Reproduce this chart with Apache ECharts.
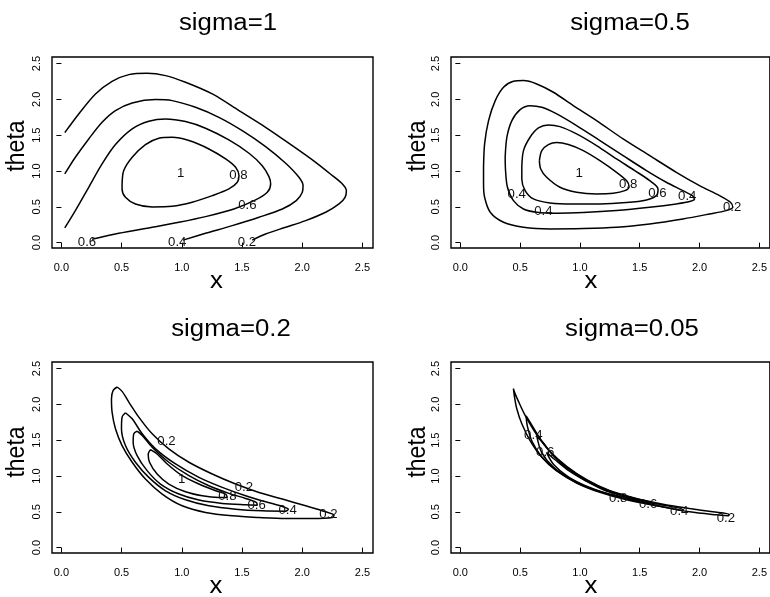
<!DOCTYPE html>
<html>
<head>
<meta charset="utf-8">
<script src="https://cdn.jsdelivr.net/npm/echarts@6/dist/echarts.min.js"></script>
<style>
html,body{margin:0;padding:0;background:#fff;}
#chart{width:770px;height:597px;}
</style>
</head>
<body>
<div id="chart"></div>
<script>
// ---------- data ----------
const panelTitles = ['sigma=1', 'sigma=0.5', 'sigma=0.2', 'sigma=0.05'];
const xAxisName = 'x';
const yAxisName = 'theta';
const tickValues = [0, 0.5, 1, 1.5, 2, 2.5];
const tickLabels = ['0.0', '0.5', '1.0', '1.5', '2.0', '2.5'];

// sigma = 1 (open contours end at the boundaries)
const s1_c02 = [[0.028,1.536],[0.144,1.797],[0.283,2.076],[0.421,2.253],[0.560,2.346],[0.712,2.365],[0.865,2.332],[1.031,2.239],[1.253,2.076],[1.475,1.844],[1.696,1.611],[1.918,1.355],[2.112,1.122],[2.251,0.936],[2.334,0.819],[2.367,0.726],[2.356,0.633],[2.306,0.540],[2.195,0.424],[2.029,0.307],[1.863,0.214],[1.696,0.121],[1.585,0.035]];
const s1_c04 = [[0.028,0.959],[0.116,1.192],[0.227,1.448],[0.338,1.681],[0.449,1.844],[0.588,1.951],[0.782,1.997],[0.920,1.983],[1.114,1.890],[1.308,1.750],[1.502,1.564],[1.696,1.341],[1.863,1.108],[1.973,0.912],[2.007,0.796],[2.001,0.703],[1.951,0.587],[1.835,0.470],[1.641,0.354],[1.419,0.237],[1.197,0.130],[1.010,0.035]];
const s1_c06 = [[0.028,0.205],[0.116,0.447],[0.227,0.773],[0.338,1.099],[0.449,1.369],[0.588,1.588],[0.726,1.695],[0.865,1.727],[1.031,1.690],[1.197,1.597],[1.391,1.434],[1.558,1.248],[1.668,1.075],[1.724,0.922],[1.738,0.819],[1.710,0.703],[1.613,0.596],[1.433,0.470],[1.197,0.363],[0.976,0.284],[0.754,0.214],[0.477,0.130],[0.255,0.047]];
const s1_c08 = [[0.504,0.819],[0.518,1.006],[0.588,1.192],[0.698,1.369],[0.809,1.457],[0.920,1.471],[1.059,1.425],[1.225,1.308],[1.364,1.169],[1.447,1.052],[1.475,0.936],[1.461,0.843],[1.391,0.750],[1.253,0.656],[1.086,0.563],[0.920,0.507],[0.754,0.498],[0.615,0.540],[0.532,0.633],[0.504,0.750]];
const s1_labelPos = [[0.99,0.96],[1.47,0.94],[1.545,0.51],[0.213,0.0],[0.962,0.0],[1.54,0.0]];
const s1_labelText = ['1','0.8','0.6','0.6','0.4','0.2'];

// sigma = 0.5
const s2_c02 = [[0.194,1.052],[0.203,1.378],[0.236,1.704],[0.292,1.983],[0.361,2.169],[0.444,2.253],[0.528,2.263],[0.639,2.216],[0.778,2.100],[0.944,1.913],[1.139,1.704],[1.361,1.448],[1.583,1.215],[1.806,0.982],[2.000,0.796],[2.167,0.656],[2.258,0.563],[2.278,0.493],[2.222,0.447],[2.083,0.400],[1.861,0.331],[1.583,0.261],[1.306,0.214],[1.028,0.196],[0.750,0.191],[0.528,0.214],[0.361,0.284],[0.250,0.424],[0.203,0.633],[0.194,0.819]];
const s2_c04 = [[0.375,1.192],[0.389,1.471],[0.431,1.704],[0.500,1.858],[0.583,1.913],[0.681,1.890],[0.806,1.797],[0.972,1.634],[1.167,1.425],[1.361,1.215],[1.556,1.006],[1.722,0.843],[1.861,0.726],[1.939,0.656],[1.958,0.610],[1.917,0.573],[1.806,0.540],[1.583,0.493],[1.306,0.447],[1.028,0.419],[0.806,0.410],[0.639,0.424],[0.528,0.470],[0.444,0.587],[0.394,0.773],[0.378,1.006]];
const s2_c06 = [[0.514,1.052],[0.528,1.285],[0.583,1.471],[0.653,1.601],[0.736,1.643],[0.833,1.620],[0.972,1.518],[1.139,1.355],[1.306,1.169],[1.458,1.006],[1.583,0.866],[1.653,0.750],[1.639,0.656],[1.556,0.596],[1.389,0.559],[1.167,0.540],[0.944,0.540],[0.750,0.554],[0.611,0.610],[0.542,0.726],[0.514,0.889]];
const s2_c08 = [[0.661,1.145],[0.681,1.285],[0.736,1.369],[0.806,1.397],[0.903,1.369],[1.028,1.285],[1.167,1.145],[1.306,0.982],[1.389,0.866],[1.411,0.782],[1.375,0.726],[1.278,0.689],[1.139,0.680],[0.972,0.703],[0.833,0.773],[0.722,0.912],[0.672,1.029]];
const s2_labelPos = [[0.994,0.959],[1.403,0.805],[1.647,0.689],[1.897,0.642],[2.272,0.493],[0.472,0.666],[0.694,0.433]];
const s2_labelText = ['1','0.8','0.6','0.4','0.2','0.4','0.4'];

// sigma = 0.2
const s3_c02 = [[0.463,2.243],[0.430,2.196],[0.416,2.079],[0.421,1.893],[0.449,1.659],[0.504,1.425],[0.588,1.192],[0.698,0.958],[0.837,0.748],[1.003,0.584],[1.197,0.491],[1.419,0.444],[1.641,0.421],[1.862,0.407],[2.084,0.407],[2.251,0.421],[2.264,0.453],[2.195,0.500],[2.029,0.584],[1.835,0.678],[1.641,0.771],[1.447,0.888],[1.253,1.028],[1.059,1.192],[0.892,1.379],[0.754,1.589],[0.643,1.822],[0.560,2.033],[0.504,2.182]];
const s3_c04 = [[0.532,1.883],[0.504,1.822],[0.499,1.659],[0.532,1.425],[0.615,1.192],[0.726,0.981],[0.865,0.794],[1.031,0.668],[1.225,0.584],[1.447,0.537],[1.669,0.514],[1.862,0.509],[1.885,0.537],[1.835,0.575],[1.696,0.640],[1.530,0.724],[1.336,0.841],[1.142,0.981],[0.948,1.168],[0.782,1.379],[0.671,1.589],[0.588,1.799]];
const s3_c06 = [[0.629,1.626],[0.601,1.589],[0.596,1.472],[0.629,1.285],[0.712,1.075],[0.823,0.888],[0.976,0.748],[1.142,0.664],[1.336,0.617],[1.530,0.598],[1.627,0.593],[1.619,0.631],[1.530,0.687],[1.391,0.757],[1.225,0.864],[1.059,1.005],[0.892,1.192],[0.754,1.402],[0.671,1.565]];
const s3_c08 = [[0.740,1.369],[0.721,1.308],[0.732,1.192],[0.795,1.028],[0.892,0.888],[1.031,0.780],[1.170,0.724],[1.308,0.701],[1.378,0.701],[1.364,0.748],[1.281,0.794],[1.142,0.888],[1.003,1.005],[0.879,1.168],[0.795,1.308]];
const s3_labelPos = [[0.998,0.949],[1.378,0.71],[1.621,0.584],[1.879,0.514],[2.217,0.453],[1.516,0.841],[0.873,1.486]];
const s3_labelText = ['1','0.8','0.6','0.4','0.2','0.2','0.2'];

// sigma = 0.05
const s4_c02 = [[0.444,2.220],[0.453,2.103],[0.472,1.939],[0.514,1.729],[0.583,1.495],[0.681,1.262],[0.806,1.075],[0.972,0.902],[1.167,0.771],[1.389,0.668],[1.639,0.584],[1.917,0.500],[2.139,0.458],[2.244,0.444],[2.244,0.467],[2.111,0.500],[1.917,0.547],[1.694,0.607],[1.472,0.687],[1.250,0.794],[1.056,0.949],[0.889,1.136],[0.750,1.341],[0.639,1.575],[0.542,1.846],[0.486,2.042],[0.450,2.182]];
const s4_c04 = [[0.55,1.84],[0.56,1.70],[0.60,1.48],[0.68,1.27],[0.80,1.08],[0.97,0.91],[1.17,0.78],[1.39,0.68],[1.62,0.595],[1.86,0.515],[1.86,0.53],[1.65,0.61],[1.45,0.69],[1.25,0.79],[1.06,0.94],[0.89,1.12],[0.76,1.32],[0.66,1.54],[0.58,1.76]];
const s4_c06 = [[0.64,1.55],[0.68,1.33],[0.78,1.12],[0.92,0.96],[1.10,0.82],[1.30,0.72],[1.50,0.645],[1.62,0.60],[1.62,0.61],[1.45,0.68],[1.25,0.78],[1.06,0.925],[0.90,1.10],[0.78,1.28],[0.69,1.47]];
const s4_c08 = [[0.72,1.33],[0.78,1.16],[0.90,0.99],[1.05,0.86],[1.22,0.76],[1.40,0.695],[1.40,0.705],[1.22,0.79],[1.05,0.93],[0.91,1.07],[0.79,1.23]];
const s4_labelPos = [[0.61,1.57],[0.71,1.33],[1.32,0.69],[1.57,0.60],[1.83,0.505],[2.22,0.41]];
const s4_labelText = ['0.4','0.6','0.8','0.6','0.4','0.2'];

// ---------- assembly ----------
const panels = [
  {open: [s1_c02, s1_c04, s1_c06], closed: [s1_c08], lp: s1_labelPos, lt: s1_labelText},
  {open: [], closed: [s2_c02, s2_c04, s2_c06, s2_c08], lp: s2_labelPos, lt: s2_labelText},
  {open: [], closed: [s3_c02, s3_c04, s3_c06, s3_c08], lp: s3_labelPos, lt: s3_labelText},
  {open: [], closed: [s4_c02, s4_c04, s4_c06, s4_c08], lp: s4_labelPos, lt: s4_labelText}
];

const FONT = '"Liberation Sans", Arial, Helvetica, sans-serif';
const gridBoxes = [[52,57,321,191],[451,57,320,191],[52,362,321,191],[451,362,320,191]];
const titlePos = [[228,24],[630,24],[231,330],[632,330]];
const xNamePos = [[216.5,282],[591,282],[216,587],[591,587]];
const yNamePos = [[17,146],[418,146],[17,452],[418,452]];

const grid = [], xAxis = [], yAxis = [], series = [], graphic = [];
gridBoxes.forEach((b, i) => {
  grid.push({left: b[0], top: b[1], width: b[2], height: b[3], show: true,
    borderColor: '#000', borderWidth: 1.4, backgroundColor: '#fff', containLabel: false});
  const common = {
    type: 'value', gridIndex: i, min: -0.078, max: 2.59,
    splitLine: {show: false},
    axisLine: {show: false},
    axisTick: {show: true, inside: false, length: 5, lineStyle: {color: '#000', width: 1}, customValues: tickValues},
    axisLabel: {show: true, color: '#000', fontSize: 11, fontFamily: FONT, customValues: tickValues,
      formatter: v => tickLabels[tickValues.indexOf(v)] !== undefined ? tickLabels[tickValues.indexOf(v)] : v.toFixed(1)}
  };
  xAxis.push(Object.assign({}, common, {position: 'bottom', min: -0.078, max: 2.588,
    axisLabel: Object.assign({}, common.axisLabel, {margin: 14})}));
  yAxis.push(Object.assign({}, common, {position: 'left', min: -0.075, max: 2.592,
    axisLabel: Object.assign({}, common.axisLabel, {rotate: 90, margin: 10})}));

  const p = panels[i];
  const lines = p.open.map(d => d).concat(p.closed.map(d => d.concat([d[0]])));
  lines.forEach(d => {
    series.push({type: 'line', xAxisIndex: i, yAxisIndex: i, data: d, showSymbol: false,
      symbol: 'none', smooth: 0.3, lineStyle: {color: '#000', width: 1.5}, silent: true, z: 3});
  });
  series.push({type: 'custom', xAxisIndex: i, yAxisIndex: i, data: p.lp, silent: true, z: 5,
    renderItem: (params, api) => {
      const c = api.coord([api.value(0), api.value(1)]);
      return {type: 'text', x: c[0], y: c[1], scaleX: 1.1, style: {text: p.lt[params.dataIndex],
        fill: '#111', font: '12px ' + FONT, align: 'center', verticalAlign: 'middle'}};
    }});

  graphic.push({type: 'text', x: titlePos[i][0], y: titlePos[i][1], scaleX: 1.12,
    style: {text: panelTitles[i], fill: '#000', font: '23px ' + FONT, align: 'center', verticalAlign: 'middle'}});
  graphic.push({type: 'text', x: xNamePos[i][0], y: xNamePos[i][1], scaleX: 1.12,
    style: {text: xAxisName, fill: '#000', font: '23px ' + FONT, align: 'center', verticalAlign: 'middle'}});
  graphic.push({type: 'text', x: yNamePos[i][0], y: yNamePos[i][1], rotation: Math.PI / 2, scaleY: 1.12,
    style: {text: yAxisName, fill: '#000', font: '23px ' + FONT, align: 'center', verticalAlign: 'middle'}});
});

const chart = echarts.init(document.getElementById('chart'), null, {renderer: 'canvas'});
chart.setOption({animation: false, backgroundColor: '#fff', grid, xAxis, yAxis, series, graphic});
</script>
</body>
</html>
